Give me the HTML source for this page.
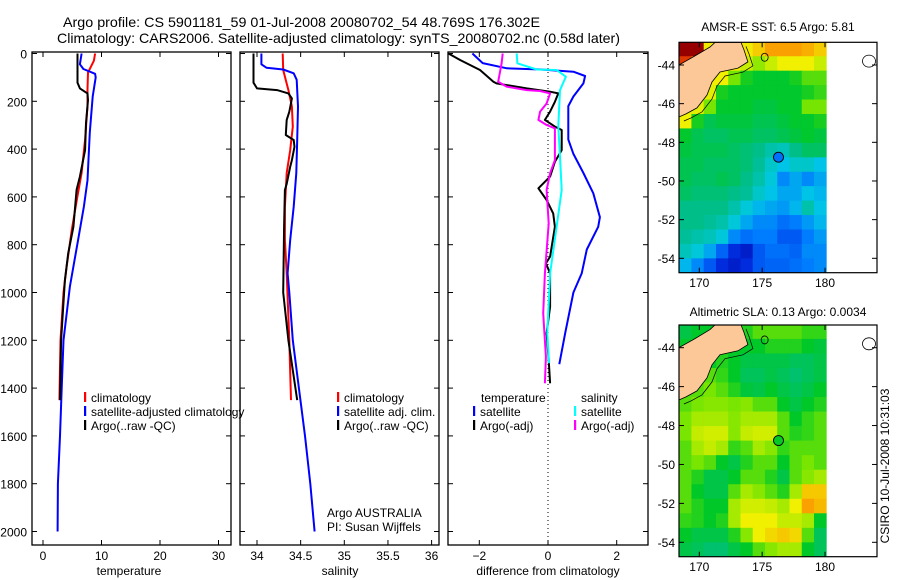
<!DOCTYPE html>
<html><head><meta charset="utf-8"><style>
html,body{margin:0;padding:0;background:#fff;}
svg{display:block;font-family:"Liberation Sans",sans-serif;}
text{fill:#000;}
</style></head><body>
<svg id="fig" width="900" height="580" viewBox="0 0 900 580" xmlns="http://www.w3.org/2000/svg">
<rect width="900" height="580" fill="#fff"/>
<text x="63" y="27" font-size="14" textLength="477" lengthAdjust="spacingAndGlyphs">Argo profile: CS 5901181_59 01-Jul-2008 20080702_54 48.769S 176.302E</text>
<text x="57" y="43" font-size="14" textLength="563" lengthAdjust="spacingAndGlyphs">Climatology: CARS2006. Satellite-adjusted climatology: synTS_20080702.nc (0.58d later)</text>
<g id="g"></g>
</svg>
<script>
// ---------- profile data ----------
const depthTicks = [0,200,400,600,800,1000,1200,1400,1600,1800,2000];
const tempTicks = [0,10,20,30];
const salTicks = [34,34.5,35,35.5,36];
const diffTicks = [-2,0,2];

const climTD = [0,30,80,150,220,360,500,610,740,890,1000,1200,1450];
const climT  = [8.9,8.7,7.7,7.6,7.6,7.2,6.6,5.8,4.9,4.05,3.5,3.0,2.8];
const satTD  = [0,45,65,85,100,180,330,530,640,780,975,1200,1400,1600,1800,2000];
const satT   = [6.6,6.3,6.9,8.9,9.0,8.5,8.0,7.6,7.0,6.0,4.6,3.5,3.2,2.9,2.55,2.5];
const argoTD = [0,122,146,167,195,291,404,515,570,725,836,948,1200,1450];
const argoT  = [5.9,5.9,6.3,7.6,7.7,7.35,7.2,6.3,5.75,5.2,4.3,3.75,3.1,2.9];

const climSD = [0,69,153,222,306,404,500,641,780,920,1200,1450];
const climS  = [34.294,34.30,34.36,34.40,34.41,34.38,34.34,34.32,34.32,34.34,34.37,34.39];
const satSD  = [0,45,60,67,83,110,222,362,500,641,780,920,1000,1200,1400,1600,1800,2000];
const satS   = [34.05,34.05,34.11,34.30,34.42,34.455,34.47,34.46,34.45,34.42,34.38,34.35,34.37,34.41,34.48,34.55,34.61,34.66];
const argoSD = [0,122,146,153,167,188,244,278,341,362,390,446,474,545,571,725,1000,1200,1450];
const argoS  = [33.96,33.96,34.0,34.23,34.36,34.40,34.37,34.34,34.33,34.42,34.43,34.40,34.38,34.34,34.32,34.31,34.30,34.36,34.46];

const dSatTD = [0,40,62,67,76,94,125,180,220,360,420,500,585,685,725,820,920,1000,1170,1300];
const dSatT  = [-2.2,-1.9,-1.2,-0.2,0.74,1.08,1.03,0.74,0.59,0.59,0.74,1.03,1.32,1.51,1.46,1.13,0.98,0.74,0.5,0.33];
const dArgoTD = [0,27,69,118,125,146,160,167,202,243,278,306,320,404,453,515,564,613,669,725,850,878,920,1060,1170,1282,1380];
const dArgoT  = [-2.9,-2.56,-1.98,-1.59,-1.5,-0.62,0.06,0.3,0.2,0.06,-0.09,0.2,0.4,0.4,0.2,0.06,-0.28,-0.04,0.15,0.2,0.06,-0.06,0.06,0.06,-0.04,0.02,0.06];
const dSatSD = [0,41,67,69,97,153,306,432,571,725,920,1170,1296];
const dSatS  = [-0.91,-0.89,-0.33,0.25,0.52,0.35,0.3,0.35,0.4,0.25,0.06,-0.02,0.03];
const dArgoSD = [0,41,118,139,153,157,167,209,243,278,299,313,446,501,571,711,920,1087,1268,1380];
const dArgoS  = [-1.32,-1.35,-1.45,-1.2,-0.62,-0.23,0.06,-0.04,-0.23,-0.28,-0.04,0.2,0.2,0.06,-0.04,0.02,-0.09,-0.14,-0.06,-0.09];

// ---------- map data ----------
const lonTicks = [170,175,180];
const latTicks = [44,46,48,50,52,54];
const floatLon = 176.3, floatLat = 48.77;
const floatSST = 5.81, floatSLA = 0.0034;
const sstGrid = [
[10,10,8.4,8.4,8.4,8.4,8.6,8.9,8.9,8.9,8.8,8.6],
[9.5,9,8.4,8.4,8.4,8.2,8.0,8.2,8.35,8.35,8.35,8.2],
[8.35,8.35,8.35,8.35,7.9,7.6,7.5,7.5,7.5,7.6,7.8,7.8],
[8.3,8.3,8.3,7.6,7.5,7.5,7.5,7.5,7.5,7.5,7.6,7.7],
[8.3,8.3,7.9,7.5,7.5,7.5,7.4,7.4,7.5,7.5,7.9,7.9],
[8.35,7.6,7.3,7.4,7.4,7.4,7.3,7.3,7.4,7.5,7.5,7.6],
[7.5,7.3,7.2,7.2,7.3,7.3,7.2,7.2,7.3,7.4,7.5,7.4],
[7.4,7.3,7.3,7.3,7.2,7.1,7.0,6.8,6.7,7.0,7.2,7.2],
[7.3,7.3,7.2,7.2,7.2,7.1,6.9,6.6,6.4,6.6,6.6,6.4],
[7.3,7.2,7.2,7.3,7.2,7.0,6.8,6.5,6.0,6.2,6.0,6.2],
[7.2,7.1,7.1,7.1,7.0,6.9,6.6,6.4,6.2,6.2,6.4,6.3],
[7.0,7.0,7.0,7.0,6.8,6.5,6.3,6.2,6.1,6.3,6.8,6.4],
[7.0,7.0,6.9,6.8,6.5,6.2,6.0,6.0,5.8,5.9,6.1,6.3],
[6.9,6.8,6.7,6.5,6.0,5.8,5.9,5.9,5.6,5.6,5.9,6.1],
[6.7,6.5,6.2,5.7,5.2,5.0,5.6,5.8,5.8,5.7,6.0,6.0],
[6.3,6.0,5.6,5.2,5.0,5.2,5.6,5.7,5.7,5.8,5.9,6.0]];
const slaGrid = [
[-0.03,0,0,0,0,0.02,0.05,0.05,0.05,0.05,0.03,0.03],
[0,0.02,0,0,0,0,0,0.02,0.02,0.02,0,-0.02],
[0,0,0,0.02,0,-0.03,-0.03,-0.03,-0.03,-0.05,-0.05,-0.03],
[0.05,0.05,0.05,0.03,0,-0.05,-0.05,-0.03,-0.05,-0.07,-0.05,-0.03],
[0.05,0.05,0.07,0.05,0.02,-0.02,-0.03,0,-0.03,-0.05,-0.03,0],
[0.05,0.07,0.08,0.08,0.07,0.08,0.05,0.05,0,-0.03,0,0.02],
[0.07,0.1,0.1,0.1,0.08,0.1,0.1,0.1,0.05,0,0.03,0.05],
[0.07,0.12,0.13,0.13,0.08,0.12,0.13,0.13,0.05,0.02,0.03,0.05],
[0.05,0.1,0.12,0.1,0.03,0.05,0.1,0.08,0.03,0.05,0.05,0.05],
[0.05,0.07,0.05,0,-0.03,0.02,0.05,0.05,0,0.05,0.07,0.05],
[0.05,0.02,-0.03,-0.03,0,0.05,0.05,0.02,-0.03,0.05,0.08,0.1],
[0.05,0,-0.03,-0.03,0.05,0.1,0.08,0.05,0.02,0.1,0.2,0.2],
[0.05,0.02,0,0,0.1,0.13,0.13,0.12,0.1,0.15,0.25,0.22],
[0.03,0.02,0,0.02,0.1,0.15,0.15,0.15,0.12,0.12,0.1,0],
[0,-0.03,-0.03,-0.03,0.02,0.08,0.15,0.18,0.2,0.18,0.05,-0.05],
[-0.03,-0.05,-0.07,-0.07,-0.03,0,0.05,0.08,0.1,0.1,0,-0.05]];
const landLon = [168.38,169.66,170.85,171.25,173.32,173.56,173.87,173.08,171.65,171.01,170.61,169.82,168.94,168.38];
const landLat = [44.0,43.53,43.07,42.83,42.83,43.22,43.84,44.16,44.36,44.88,45.55,46.22,46.53,46.69];

// ---------- drawing ----------
const NS='http://www.w3.org/2000/svg';
const G=document.getElementById('g');
function mk(tag,attrs,parent){const e=document.createElementNS(NS,tag);for(const k in attrs)e.setAttribute(k,attrs[k]);(parent||G).appendChild(e);return e;}
function txt(s,x,y,attrs,parent){const e=mk('text',Object.assign({x:x,y:y,'font-size':12},attrs||{}),parent);e.textContent=s;return e;}

const yD = d => 53.5 + 0.239*d;
const PT = {x0:32,x1:231, f:v=>43+5.85*v};
const PS = {x0:240,x1:439, f:v=>257+87.3*(v-34)};
const PD = {x0:448,x1:648, f:v=>548+34.35*v};
const TOP=52, BOT=545;

function axesBox(p,name){
  const b=mk('rect',{x:p.x0,y:TOP,width:p.x1-p.x0,height:BOT-TOP,fill:'none',stroke:'#000','stroke-width':1.3});
  
  
  depthTicks.forEach(d=>{
    mk('line',{x1:p.x0,x2:p.x0+5,y1:yD(d),y2:yD(d),stroke:'#000'});
    mk('line',{x1:p.x1-5,x2:p.x1,y1:yD(d),y2:yD(d),stroke:'#000'});
  });
}
function xTicks(p,ticks,fmt){
  ticks.forEach(t=>{
    const x=p.f(t);
    mk('line',{x1:x,x2:x,y1:BOT,y2:BOT-5,stroke:'#000'});
    mk('line',{x1:x,x2:x,y1:TOP,y2:TOP+5,stroke:'#000'});
    const l=txt(fmt(t),x,560,{'text-anchor':'middle'});
    
    
  });
}
function line(p,ds,vs,color,name,w){
  const pts=ds.map((d,i)=>p.f(vs[i]).toFixed(1)+','+yD(d).toFixed(1)).join(' ');
  const e=mk('polyline',{points:pts,fill:'none',stroke:color,'stroke-width':w||2,'stroke-linejoin':'round'});
  
  
}
function legend(x,y,color,label,name){
  if(color) mk('rect',{x:x,y:y-10,width:2.2,height:10,fill:color});
  const t=txt(label,x+7,y,{});
  
  
}

// clip for profiles
const defs=mk('defs',{});
[['cT',PT],['cS',PS],['cD',PD]].forEach(([id,p])=>{const c=mk('clipPath',{id:id},defs);mk('rect',{x:p.x0,y:TOP,width:p.x1-p.x0,height:BOT-TOP},c);});

// panel 1
axesBox(PT,'temperature-axes');
depthTicks.forEach(d=>{const t=txt(String(d),27,yD(d)+5,{'text-anchor':'end'});});
xTicks(PT,tempTicks,String);
let gT=mk('g',{'clip-path':'url(#cT)'});
(function(){const save=G; })();
function lineIn(g,p,ds,vs,c,n){const pts=ds.map((d,i)=>p.f(vs[i]).toFixed(1)+','+yD(d).toFixed(1)).join(' ');const e=mk('polyline',{points:pts,fill:'none',stroke:c,'stroke-width':2,'stroke-linejoin':'round'},g);}
lineIn(gT,PT,climTD,climT,'#ff0000','temp-climatology-line');
lineIn(gT,PT,satTD,satT,'#0000ff','temp-satellite-line');
lineIn(gT,PT,argoTD,argoT,'#000000','temp-argo-line');
legend(84,402,'#ff0000','climatology','legend-climatology');
legend(84,416,'#0000ff','satellite-adjusted climatology','legend-satellite-adjusted');
legend(84,430,'#000000','Argo(..raw -QC)','legend-argo');
let xl=txt('temperature',129,575,{'text-anchor':'middle'});

// panel 2
axesBox(PS,'salinity-axes');
xTicks(PS,salTicks,String);
let gS=mk('g',{'clip-path':'url(#cS)'});
lineIn(gS,PS,climSD,climS,'#ff0000','sal-climatology-line');
lineIn(gS,PS,satSD,satS,'#0000ff','sal-satellite-line');
lineIn(gS,PS,argoSD,argoS,'#000000','sal-argo-line');
// white cover for overflowing legend text of panel1
mk('rect',{x:231.7,y:390,width:7.6,height:20,fill:'#fff'});
mk('line',{x1:240,x2:240,y1:390,y2:410,stroke:'#000','stroke-width':1.3});
legend(337,402,'#ff0000','climatology','legend-sal-climatology');
legend(337,416,'#0000ff','satellite adj. clim.','legend-sal-satellite');
legend(337,430,'#000000','Argo(..raw -QC)','legend-sal-argo');
let a1=txt('Argo AUSTRALIA',327,517,{});
let a2=txt('PI: Susan Wijffels',327,531,{});
xl=txt('salinity',340,575,{'text-anchor':'middle'});

// panel 3
axesBox(PD,'difference-axes');
xTicks(PD,diffTicks,v=>v<0?'\u2212'+Math.abs(v):String(v));
mk('line',{x1:PD.f(0),x2:PD.f(0),y1:TOP,y2:BOT,stroke:'#000','stroke-width':1,'stroke-dasharray':'1,3'});
let gD=mk('g',{'clip-path':'url(#cD)'});
lineIn(gD,PD,dSatTD,dSatT,'#0000ff','diff-temp-satellite-line');
lineIn(gD,PD,dArgoTD,dArgoT,'#000000','diff-temp-argo-line');
lineIn(gD,PD,dSatSD,dSatS,'#00ffff','diff-sal-satellite-line');
lineIn(gD,PD,dArgoSD,dArgoS,'#ff00ff','diff-sal-argo-line');
legend(474,402,null,'temperature','legend-temperature-header');
legend(574,402,null,'salinity','legend-salinity-header');
legend(473,416,'#0000ff','satellite','legend-diff-temp-satellite');
legend(473,430,'#000000','Argo(-adj)','legend-diff-temp-argo');
legend(574,416,'#00ffff','satellite','legend-diff-sal-satellite');
legend(574,430,'#ff00ff','Argo(-adj)','legend-diff-sal-argo');
xl=txt('difference from climatology',548,575,{'text-anchor':'middle'});

// ---------- maps ----------
const stops=[[0,[0,0,140]],[0.12,[0,40,220]],[0.25,[0,120,255]],[0.35,[0,200,230]],[0.45,[0,190,140]],[0.55,[0,200,40]],[0.62,[120,230,0]],[0.7,[240,240,0]],[0.8,[250,160,0]],[0.9,[230,60,0]],[1,[150,0,0]]];
function cmap(t){t=Math.max(0,Math.min(1,t));for(let i=1;i<stops.length;i++){if(t<=stops[i][0]){const a=stops[i-1],b=stops[i];const f=(t-a[0])/(b[0]-a[0]);const c=a[1].map((v,k)=>Math.round(v+(b[1][k]-v)*f));return 'rgb('+c.join(',')+')';}}return 'rgb(150,0,0)';}
const sstIdx=v=>(v-4.5)/5.5;
const slaIdx=v=>0.55+v;

const lonX=l=>699.3+(l-170)*12.57;
function drawMap(M){
  const latY=lat=>M.y44+(lat-44)*M.sy;
  const g=mk('g',{});
  
  
  const cid='clip'+M.name;
  const c=mk('clipPath',{id:cid},defs);mk('rect',{x:679,y:M.top,width:198,height:M.bot-M.top},c);
  const inner=mk('g',{'clip-path':'url(#'+cid+')'},g);
  const rows=M.grid.length, cols=M.grid[0].length;
  const lon0=168.4, dlon=(180.1-168.4)/cols, lat0=42.8, dlat=(54.75-42.8)/rows;
  M.grid.forEach((row,r)=>row.forEach((v,k)=>{
    const x=lonX(lon0+k*dlon), y=latY(lat0+r*dlat);
    const e=mk('rect',{x:x.toFixed(2),y:y.toFixed(2),width:(lonX(lon0+(k+1)*dlon)-x+0.4).toFixed(2),height:(latY(lat0+(r+1)*dlat)-y+0.4).toFixed(2),fill:cmap(M.idx(v))},inner);
    
    
  }));
  const lp=landLon.map((l,i)=>lonX(l).toFixed(1)+','+latY(landLat[i]).toFixed(1)).join(' ');
  const land=mk('polygon',{points:lp,fill:'#fcc898',stroke:'#000','stroke-width':0.8},inner);
  
  
  // offshore contour
  const off=landLon.slice(4).map((l,i)=>(lonX(l)+5).toFixed(1)+','+(latY(landLat[i+4])+4).toFixed(1)).join(' ');
  mk('polyline',{points:off,fill:'none',stroke:'#000','stroke-width':0.7},inner);
  mk('ellipse',{cx:lonX(175.2),cy:latY(43.6),rx:3.5,ry:4,fill:'none',stroke:'#000','stroke-width':0.8},inner);
  mk('ellipse',{cx:lonX(183.5),cy:latY(43.8),rx:6.5,ry:6,fill:'none',stroke:'#000','stroke-width':0.8},inner);
  const fp=mk('circle',{cx:lonX(floatLon),cy:latY(floatLat),r:5,fill:cmap(M.idx(M.fval)),stroke:'#000','stroke-width':0.9},g);
  
  
  mk('rect',{x:679,y:M.top,width:198,height:M.bot-M.top,fill:'none',stroke:'#000','stroke-width':1.2},g);
  lonTicks.forEach(l=>{const x=lonX(l);mk('line',{x1:x,x2:x,y1:M.bot,y2:M.bot-5,stroke:'#000'},g);mk('line',{x1:x,x2:x,y1:M.top,y2:M.top+5,stroke:'#000'},g);
    const t=txt(String(l),x,M.lonY,{'text-anchor':'middle'},g);});
  latTicks.forEach(la=>{const y=latY(la);mk('line',{x1:679,x2:684,y1:y,y2:y,stroke:'#000'},g);mk('line',{x1:872,x2:877,y1:y,y2:y,stroke:'#000'},g);
    const t=txt('-'+la,675,y+4.5,{'text-anchor':'end'},g);});
  const tt=txt(M.title,778,M.titleY,{'text-anchor':'middle'},g);
}
drawMap({name:'sst-map',grid:sstGrid,idx:sstIdx,fval:floatSST,y44:65,sy:19.33,top:42.3,bot:272.7,lonY:287,titleY:31,title:'AMSR-E SST: 6.5 Argo: 5.81'});
drawMap({name:'sla-map',grid:slaGrid,idx:slaIdx,fval:floatSLA,y44:347.7,sy:19.46,top:325,bot:556.7,lonY:571,titleY:316,title:'Altimetric SLA: 0.13 Argo: 0.0034'});
const cs=txt('CSIRO 10-Jul-2008 10:31:03',0,0,{'text-anchor':'middle',transform:'translate(889,466) rotate(-90)'});


</script>
</body></html>
